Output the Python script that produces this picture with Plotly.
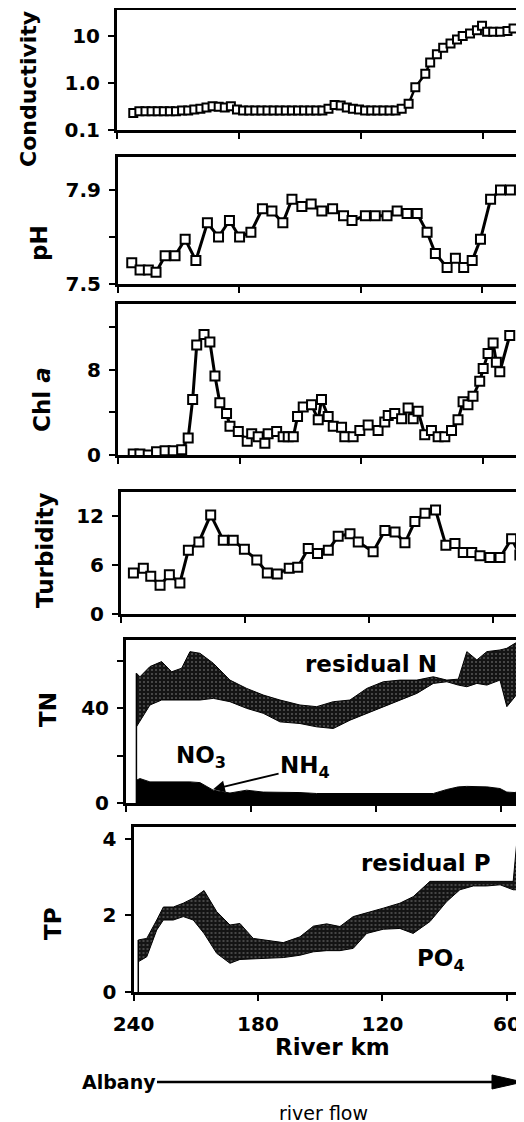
import plotly.graph_objects as go

W, H = 524, 1122
OFF = 8  # the page body adds an 8px margin around the figure

# ---- data (river km, value)
cond_km = [232, 229, 226, 223, 220, 217, 214, 211, 208, 205, 202, 199, 196, 193, 190, 187,
           184, 181, 178, 175, 172, 169, 166, 163, 160, 157, 154, 151, 148, 145, 142, 139,
           136, 133, 130, 127, 124, 121, 118, 115, 112, 109, 106, 103, 100, 96.6, 93.3, 88.4,
           86, 82.7, 79.6, 76, 72.8, 70, 66.4, 63, 60.5, 58, 55, 51.6, 48, 45]
cond = [0.23, 0.25, 0.25, 0.25, 0.25, 0.25, 0.25, 0.25, 0.26, 0.26, 0.27, 0.28, 0.30, 0.32, 0.31, 0.30,
        0.32, 0.27, 0.26, 0.26, 0.26, 0.26, 0.26, 0.26, 0.26, 0.26, 0.26, 0.26, 0.26, 0.26, 0.26, 0.26,
        0.28, 0.34, 0.33, 0.30, 0.28, 0.27, 0.26, 0.26, 0.26, 0.26, 0.26, 0.26, 0.28, 0.36, 0.8, 1.55,
        2.7, 4.0, 5.5, 6.8, 8.2, 9.8, 11, 13, 16, 12, 12, 12, 12.5, 14]

ph_km = [233.2, 229.1, 225.0, 221.2, 216.7, 211.8, 206.8, 201.5, 195.8, 190.3, 184.9, 179.9, 174.3,
         168.6, 163.9, 158.5, 154.0, 149.1, 144.5, 139.2, 133.9, 128.5, 124.3, 117.7, 112.8, 107.0,
         102.0, 97.1, 92.1, 87.2, 83.1, 77.3, 73.2, 69.1, 64.9, 60.8, 55.8, 50.9, 46.0]
ph = [7.59, 7.56, 7.56, 7.55, 7.62, 7.62, 7.69, 7.60, 7.76, 7.70, 7.77, 7.70, 7.72,
      7.82, 7.81, 7.76, 7.86, 7.83, 7.84, 7.81, 7.82, 7.79, 7.77, 7.79, 7.79, 7.79,
      7.81, 7.80, 7.80, 7.72, 7.63, 7.57, 7.61, 7.57, 7.60, 7.69, 7.86, 7.90, 7.90]

chl_km = [232.5, 229.2, 225.1, 221.0, 216.8, 212.8, 208.6, 205.4, 203.2, 201.2, 197.6, 194.7, 192.2,
          189.8, 186.5, 184.8, 180.7, 176.3, 174.1, 170.9, 167.6, 166.0, 161.8, 158.6, 156.1, 153.6,
          151.5, 148.7, 144.6, 141.3, 139.7, 136.4, 133.9, 129.8, 128.2, 124.1, 120.8, 116.7, 111.8,
          108.5, 106.8, 103.6, 100.2, 97.0, 94.5, 92.1, 88.8, 85.5, 82.2, 78.9, 75.6, 72.4, 69.9,
          67.5, 65.0, 61.7, 60.0, 57.6, 55.1, 53.5, 51.8, 46.9]
chl = [0.1, 0.1, 0.0, 0.3, 0.4, 0.4, 0.5, 1.6, 5.2, 10.3, 11.3, 10.6, 7.4,
       4.9, 3.9, 2.7, 2.2, 1.3, 2.0, 1.7, 1.1, 2.0, 2.2, 1.7, 1.7, 1.7,
       3.6, 4.5, 4.7, 3.3, 5.2, 3.6, 2.7, 2.6, 1.7, 1.7, 2.3, 2.8, 2.3,
       3.1, 3.7, 3.9, 3.4, 4.4, 3.4, 4.1, 1.9, 2.3, 1.7, 1.7, 2.3, 3.3, 5.0,
       4.7, 5.5, 6.9, 8.1, 9.5, 10.5, 8.7, 7.8, 11.2]

turb_km = [234.0, 229.2, 225.6, 221.1, 216.6, 211.5, 207.4, 202.3, 196.6, 190.5, 185.7, 180.3, 174.3,
           169.2, 164.4, 158.6, 154.5, 149.4, 144.9, 139.7, 134.9, 129.2, 125.2, 118.0, 112.3, 107.4,
           102.6, 97.8, 92.9, 87.8, 82.8, 78.4, 74.4, 70.3, 66.3, 61.5, 56.6, 51.0, 47.0]
turb = [5.0, 5.6, 4.6, 3.5, 4.8, 3.8, 7.8, 8.8, 12.1, 9.0, 9.0, 7.9, 6.6,
        5.0, 4.9, 5.6, 5.7, 8.0, 7.4, 7.8, 9.5, 9.8, 8.8, 7.6, 10.2, 10.0,
        8.7, 11.3, 12.3, 12.7, 8.4, 8.6, 7.5, 7.5, 7.1, 6.9, 6.9, 9.2, 7.2]

tn_km = [235.0, 233.3, 228.5, 222.9, 218.1, 213.3, 209.3, 204.5, 198.1, 190.1, 182.1, 174.1, 166.1,
         156.5, 148.5, 140.5, 132.5, 124.4, 116.5, 108.5, 100.4, 92.5, 86.0, 80.5, 76.4, 71.6,
         66.8, 60.5, 57.2, 53.3, 49.6]
nh4 = [9.6, 10.3, 8.9, 8.9, 8.9, 8.9, 8.9, 8.6, 5.4, 4.2, 5.4, 4.6, 4.6,
       4.4, 4.0, 3.7, 3.7, 4.0, 4.0, 4.0, 4.0, 4.0, 5.7, 6.8, 7.0, 7.0,
       6.8, 6.1, 4.6, 4.4, 5.7]
no3 = [22.5, 24.6, 32.4, 34.5, 34.5, 34.2, 34.5, 34.8, 38.7, 38.5, 34.5, 33.2, 29.6,
       29.1, 28.1, 27.7, 31.2, 33.8, 36.6, 39.4, 42.2, 46.4, 45.4, 42.9, 42.0, 43.4,
       42.9, 45.7, 36.0, 40.4, 44.7]
resid_n = [22.6, 18.3, 16.2, 16.2, 11.9, 13.7, 20.4, 19.7, 14.8, 9.1, 8.4, 7.7, 9.2,
           7.8, 8.5, 11.3, 8.5, 10.5, 10.5, 8.4, 5.6, 2.8, 0.7, 2.5, 14.8, 9.9,
           14.1, 12.7, 24.6, 22.5, 18.3]

tp_km = [237.7, 233.6, 228.8, 225.6, 220.8, 216.0, 211.2, 206.0, 199.9, 193.5, 188.7, 182.3, 175.8,
         167.8, 159.8, 153.3, 146.9, 140.5, 134.1, 127.6, 119.6, 111.6, 105.2, 97.1, 89.1, 82.7,
         76.2, 69.8, 63.3, 57.0, 55.3, 52.4]
po4 = [0.79, 0.92, 1.62, 1.88, 1.88, 1.97, 1.88, 1.53, 1.01, 0.75, 0.85, 0.85, 0.88,
       0.90, 0.96, 1.05, 1.08, 1.08, 1.14, 1.53, 1.64, 1.66, 1.53, 1.84, 2.36, 2.67,
       2.77, 2.77, 2.80, 2.67, 2.67, 2.71]
resid_p = [0.57, 0.48, 0.26, 0.34, 0.34, 0.35, 0.57, 1.12, 1.09, 1.00, 0.94, 0.55, 0.46,
           0.39, 0.48, 0.67, 0.70, 0.63, 0.83, 0.53, 0.55, 0.66, 0.96, 1.05, 0.53, 0.22,
           0.12, 0.12, 0.09, 0.22, 1.22, 1.18]

x_ticks = [240, 180, 120, 60]
x_ticklabels = ['240', '180', '120', '60']

# ---- panel placement in pixels: left edge, km at right edge, bottom, top
panels = [
    dict(left=117, kmr=39.8, bot=130, top=10),
    dict(left=118, kmr=39.2, bot=284, top=157),
    dict(left=118, kmr=39.8, bot=455, top=304),
    dict(left=121, kmr=45.0, bot=614, top=492),
    dict(left=126, kmr=49.0, bot=803, top=640),
    dict(left=133.5, kmr=51.8, bot=992, top=827),
]

FONT = "DejaVu Sans"
BOLD = dict(family=FONT, size=20, color="black", weight="bold")


def px(x):
    return (x - OFF) / W


def py(y):
    return 1 - (y - OFF) / H


fig = go.Figure()

sq = dict(symbol="square", size=9, color="white", line=dict(color="black", width=2))


def line_trace(x, y, n, lw=3, ms=9):
    m = dict(sq)
    m["size"] = ms
    return go.Scatter(x=x, y=y, mode="lines+markers", line=dict(color="black", width=lw),
                      marker=m, xaxis="x%d" % n, yaxis="y%d" % n, showlegend=False)


fig.add_trace(line_trace(cond_km, cond, 1, lw=2.5, ms=8))
fig.add_trace(line_trace(ph_km, ph, 2))
fig.add_trace(line_trace(chl_km, chl, 3))
fig.add_trace(line_trace(turb_km, turb, 4))

band_pattern = dict(shape=".", bgcolor="#141414", fgcolor="#9a9a9a", size=4, solidity=0.2)

# ---- TN stack
fig.add_trace(go.Scatter(x=tn_km, y=nh4, stackgroup="tn", mode="lines", fillcolor="black",
                         line=dict(color="black", width=1), xaxis="x5", yaxis="y5", showlegend=False))
fig.add_trace(go.Scatter(x=tn_km, y=no3, stackgroup="tn", mode="lines", fillcolor="white",
                         line=dict(color="black", width=1), xaxis="x5", yaxis="y5", showlegend=False))
fig.add_trace(go.Scatter(x=tn_km, y=resid_n, stackgroup="tn", mode="lines", fillcolor="#141414",
                         fillpattern=band_pattern, line=dict(color="black", width=1),
                         xaxis="x5", yaxis="y5", showlegend=False))
fig.add_trace(go.Scatter(x=[tn_km[0], tn_km[0]], y=[0, nh4[0] + no3[0] + resid_n[0]], mode="lines",
                         line=dict(color="black", width=1.5), xaxis="x5", yaxis="y5", showlegend=False))

# ---- TP stack
fig.add_trace(go.Scatter(x=tp_km, y=po4, stackgroup="tp", mode="lines", fillcolor="white",
                         line=dict(color="black", width=1), xaxis="x6", yaxis="y6", showlegend=False))
fig.add_trace(go.Scatter(x=tp_km, y=resid_p, stackgroup="tp", mode="lines", fillcolor="#141414",
                         fillpattern=band_pattern, line=dict(color="black", width=1),
                         xaxis="x6", yaxis="y6", showlegend=False))
fig.add_trace(go.Scatter(x=[tp_km[0], tp_km[0]], y=[0, po4[0] + resid_p[0]], mode="lines",
                         line=dict(color="black", width=1.5), xaxis="x6", yaxis="y6", showlegend=False))

# ---- y axis settings (labelled ticks + unlabelled minor ticks)
yspecs = [
    dict(type="log", range=[-1, 1.54], tickvals=[0.1, 1, 10], ticktext=["0.1", "1.0", "10"]),
    dict(range=[7.5, 8.04], tickvals=[7.5, 7.9], ticktext=["7.5", "7.9"]),
    dict(range=[0, 14.15], tickvals=[0, 8], ticktext=["0", "8"]),
    dict(range=[0, 14.9], tickvals=[0, 6, 12], ticktext=["0", "6", "12"]),
    dict(range=[0, 68.7], tickvals=[0, 40], ticktext=["0", "40"]),
    dict(range=[0, 4.31], tickvals=[0, 2, 4], ticktext=["0", "2", "4"]),
]
minor_ticks = [None, [7.7], [4, 12], None, [20, 60], None]

layout = dict(
    width=W, height=H,
    margin=dict(l=0, r=0, t=0, b=0, pad=0, autoexpand=False),
    paper_bgcolor="white", plot_bgcolor="white",
    font=dict(family=FONT, color="black"),
    showlegend=False,
)

for i, (p, ys, mt) in enumerate(zip(panels, yspecs, minor_ticks), start=1):
    last = i == len(panels)
    layout["xaxis%d" % i] = dict(
        domain=[px(p["left"]), 1.0], range=[240, p["kmr"] - OFF * 60 / 124], anchor="y%d" % i,
        showline=True, linewidth=3, linecolor="black", mirror=True,
        ticks="outside", ticklen=6, tickwidth=2, tickcolor="black",
        tickvals=x_ticks, ticktext=x_ticklabels, showticklabels=last,
        tickfont=dict(BOLD, size=20), ticklabelstandoff=6,
        showgrid=False, zeroline=False, fixedrange=True, automargin=False,
    )
    yax = dict(
        domain=[py(p["bot"]), py(p["top"])], anchor="x%d" % i,
        showline=True, linewidth=3, linecolor="black", mirror=False,
        ticks="outside", ticklen=6, tickwidth=2, tickcolor="black",
        tickfont=BOLD, ticklabelstandoff=4,
        showgrid=False, zeroline=False, fixedrange=True, automargin=False,
    )
    yax.update(ys)
    if mt:
        yax["minor"] = dict(tickmode="array", tickvals=mt, ticks="outside", ticklen=6,
                            tickwidth=2, tickcolor="black", showgrid=False)
    layout["yaxis%d" % i] = yax

fig.update_layout(**layout)

# ---- axis titles and labels
titles = [
    ("Conductivity", 29, 89, 22),
    ("pH", 39, 243, 23),
    ("Chl <i>a</i>", 42, 400, 23),
    ("Turbidity", 45, 550, 23),
    ("TN", 48, 710, 23),
    ("TP", 53, 924, 23),
]
for txt, x, y, s in titles:
    fig.add_annotation(text=txt, x=px(x), y=py(y), xref="paper", yref="paper", textangle=-90,
                       showarrow=False, xanchor="center", yanchor="middle",
                       font=dict(family=FONT, size=s, color="black", weight="bold"))

labels = [
    ("residual N", 371, 664, 23),
    ("NO<sub>3</sub>", 201, 757, 23),
    ("residual P", 426, 863, 23),
    ("PO<sub>4</sub>", 441, 960, 23),
    ("River km", 332, 1047, 23),
    ("Albany", 119, 1082, 19),
]
for txt, x, y, s in labels:
    fig.add_annotation(text=txt, x=px(x), y=py(y), xref="paper", yref="paper", showarrow=False,
                       xanchor="center", yanchor="middle",
                       font=dict(family=FONT, size=s, color="black", weight="bold"))

fig.add_annotation(text="river flow", x=px(323), y=py(1113), xref="paper", yref="paper",
                   showarrow=False, xanchor="center", yanchor="middle",
                   font=dict(family=FONT, size=19, color="black"))

# NH4 label with arrow pointing at the ammonium layer
fig.add_annotation(text="NH<sub>4</sub>", x=198.2, y=5.8, xref="x5", yref="y5",
                   showarrow=True, ax=92, ay=-22, arrowhead=2, arrowsize=1.3, arrowwidth=1.8,
                   arrowcolor="black", font=dict(family=FONT, size=23, color="black", weight="bold"))

# river flow arrow
fig.add_shape(type="line", xref="paper", yref="paper", x0=px(157), y0=py(1082), x1=px(496), y1=py(1082),
              line=dict(color="black", width=2.5))
fig.add_shape(type="path", xref="paper", yref="paper",
              path="M %f %f L %f %f L %f %f Z" % (px(492), py(1075), px(523), py(1082), px(492), py(1089)),
              fillcolor="black", line=dict(color="black", width=1))

fig.write_html("out.html")
